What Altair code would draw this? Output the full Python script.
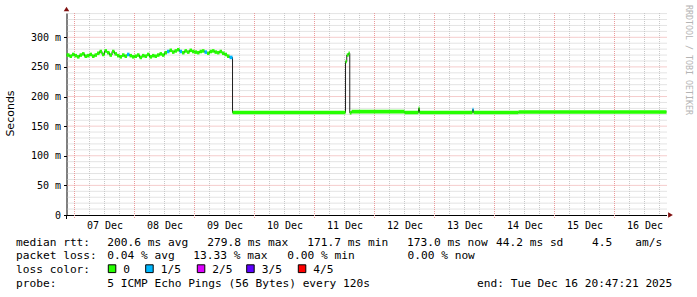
import json
import altair as alt
import pandas as pd

# ---------------- data (hours since 06 Dec 00:00) ----------------
START = 20.789   # 06 Dec 20:47:21
END = 260.789    # 16 Dec 20:47:21

# hourly medians (ms) for the first, noisy part
noisy_hours = [START] + list(range(22, 87))
noisy_values = [270, 268, 271, 269, 267, 270, 272, 268, 269, 271, 268, 270, 273,
                276, 271, 277, 274, 270, 276, 272,
                269, 267, 270, 268, 271, 269, 267, 268, 270, 266, 269, 268, 271, 267, 269, 268, 270,
                272, 270, 274, 276,
                278, 275, 277, 279, 276, 274, 277, 275, 278, 276,
                275, 274, 276, 277, 275, 273, 276, 277, 275, 274, 276, 273, 271,
                268, 266]
noisy_loss = [0] * 66
for i in (24, 40, 45, 55, 65):
    noisy_loss[i] = 1

# step segments for the flat part
flat_hours = [87.2, 132.4, 132.9, 133.6, 134.1, 134.8, 156.0, 161.6, 162.0, 183.2, 183.6, 201.6]
flat_values = [173.0, 259.0, 270.0, 273.0, 172.5, 174.5, 173.0, 180.0, 173.0, 178.0, 173.0, 174.0]
flat_loss = [0, 0, 0, 0, 0, 0, 0, 0, 0, 1, 0, 0]

day_labels = ["07 Dec", "08 Dec", "09 Dec", "10 Dec", "11 Dec",
              "12 Dec", "13 Dec", "14 Dec", "15 Dec", "16 Dec"]
y_ticks = [0, 50, 100, 150, 200, 250, 300]

loss_names = ["0", "1/5", "2/5", "3/5", "4/5"]
loss_colors = ["#26ff00", "#00b8ff", "#dd00ff", "#5e00ff", "#ff0000"]

legend_lines = [
    [("median rtt:", 16), ("200.6 ms avg", 107.3), ("279.8 ms max", 207.3),
     ("171.7 ms min", 307.3), ("173.0 ms now", 407), ("44.2 ms sd", 496),
     ("4.5", 592), ("am/s", 635.3)],
    [("packet loss:", 16), ("0.04 % avg", 107.3), ("13.33 % max", 193.3),
     ("0.00 % min", 287.3), ("0.00 % now", 407.5)],
    [("loss color:", 16)],
    [("probe:", 16), ("5 ICMP Echo Pings (56 Bytes) every 120s", 107.3),
     ("end: Tue Dec 16 20:47:21 2025", 477)],
]

# ---------------- layout ----------------
PL, PT = 66.5, 13
W, H = 600, 202
YMAX = 341
line_base = [245.5, 259.3, 273.0, 286.7]
swatch_x = [108.3, 145.7, 197.3, 246.7, 298.3]

MONO = "DejaVu Sans Mono"

# ---------------- tables ----------------
hours = noisy_hours + flat_hours
vals = noisy_values + flat_values
loss = noisy_loss + flat_loss
ends = hours[1:] + [END]
band = 3.0
seg = pd.DataFrame({"t0": hours, "t1": ends, "v": vals, "loss": loss})
seg["lo"] = seg["v"] - band
seg["hi"] = seg["v"] + band

line_df = pd.DataFrame({"t": hours + [END], "v": vals + [vals[-1]]})

xs = alt.Scale(domain=[START, END], nice=False, zero=False)
ys = alt.Scale(domain=[0, YMAX], nice=False, zero=True)

label_expr = "%s[round((datum.value-36)/24)]" % json.dumps(day_labels)
noon = [36 + 24 * i for i in range(len(day_labels))]

XAXIS = alt.Axis(
    values=noon, labelExpr=label_expr, title="", grid=False, ticks=False,
    domainColor="#000000", domainWidth=1, labelFont=MONO, labelFontSize=10,
    labelColor="#000000", labelPadding=5)
YAXIS = alt.Axis(
    values=y_ticks, labelExpr="datum.value == 0 ? '0' : datum.value + ' m'",
    title="Seconds", titleFont="DejaVu Sans", titleFontSize=11, titleFontWeight="normal",
    titleColor="#000000", titleX=-56.5, titleY=100, titleAngle=270,
    titleAlign="center", titleBaseline="middle",
    grid=False, tickSize=3, tickColor="#000000", domainColor="#000000", domainWidth=1,
    labelFont=MONO, labelFontSize=10, labelColor="#000000", labelPadding=3)

# grids
minor_y = pd.DataFrame({"y": [v for v in range(10, YMAX, 10) if v % 50]})
major_y = pd.DataFrame({"y": [v for v in range(50, YMAX, 50)]})
minor_x = pd.DataFrame({"x": [h for h in range(24, int(END), 6) if h % 24]})
major_x = pd.DataFrame({"x": list(range(24, int(END), 24))})

g_minor_y = alt.Chart(minor_y).mark_rule(color="#c8c8c8", strokeDash=[1, 1], strokeWidth=1).encode(
    y=alt.Y("y:Q", scale=ys, axis=YAXIS))
g_major_y = alt.Chart(major_y).mark_rule(color="#ea9a9a", strokeDash=[1, 1], strokeWidth=1).encode(
    y=alt.Y("y:Q", scale=ys, axis=YAXIS))
g_minor_x = alt.Chart(minor_x).mark_rule(color="#c8c8c8", strokeDash=[1, 1], strokeWidth=1).encode(
    x=alt.X("x:Q", scale=xs, axis=XAXIS), y=alt.value(0), y2=alt.value(H))
g_major_x = alt.Chart(major_x).mark_rule(color="#ea9a9a", strokeDash=[1, 1], strokeWidth=1).encode(
    x=alt.X("x:Q", scale=xs, axis=XAXIS), y=alt.value(0), y2=alt.value(H + 4))

median_line = alt.Chart(line_df).mark_line(interpolate="step-after", color="#202020", strokeWidth=1).encode(
    x=alt.X("t:Q", scale=xs, axis=XAXIS),
    y=alt.Y("v:Q", scale=ys, axis=YAXIS),
)

bands = alt.Chart(seg).mark_rect().encode(
    x=alt.X("t0:Q", scale=xs, axis=XAXIS), x2="t1",
    y=alt.Y("lo:Q", scale=ys, axis=YAXIS), y2="hi",
    color=alt.Color("loss:N", scale=alt.Scale(domain=[0, 1, 2, 3, 4], range=loss_colors), legend=None),
)

# axis extension below the x axis, as drawn by rrdtool
y_ext = alt.Chart(pd.DataFrame({"a": [0]})).mark_rule(color="#000000", strokeWidth=1).encode(
    x=alt.value(0), y=alt.value(H), y2=alt.value(H + 4))

# arrows
arrow_up = alt.Chart(pd.DataFrame({"a": [0]})).mark_point(
    shape="triangle-up", filled=True, color="#801010", size=30, opacity=1).encode(
    x=alt.value(0), y=alt.value(-4))
arrow_right = alt.Chart(pd.DataFrame({"a": [0]})).mark_point(
    shape="triangle-right", filled=True, color="#801010", size=30, opacity=1).encode(
    x=alt.value(W + 4), y=alt.value(H))

# legend texts
rows = []
for i, items in enumerate(legend_lines):
    for txt, px in items:
        rows.append({"txt": txt, "px": px - PL, "py": line_base[i] - PT})
for i, name in enumerate(loss_names):
    rows.append({"txt": name, "px": swatch_x[i] + 15 - PL, "py": line_base[2] - PT})
legend_df = pd.DataFrame(rows)
legend_text = alt.Chart(legend_df).mark_text(
    font=MONO, fontSize=11.2, align="left", baseline="alphabetic", color="#000000").encode(
    x=alt.X("px:Q", scale=None), y=alt.Y("py:Q", scale=None), text="txt:N")

sw_df = pd.DataFrame({"name": loss_names, "x0": [s - PL for s in swatch_x],
                      "x1": [s + 7.5 - PL for s in swatch_x],
                      "y0": [264.8 - PT] * 5, "y1": [272.6 - PT] * 5})
swatches = alt.Chart(sw_df).mark_rect(stroke="#000000", strokeWidth=1).encode(
    x=alt.X("x0:Q", scale=None), x2="x1", y=alt.Y("y0:Q", scale=None), y2="y1",
    fill=alt.Fill("name:N", scale=alt.Scale(domain=loss_names, range=loss_colors), legend=None))

watermark = alt.Chart(pd.DataFrame({"t": ["RRDTOOL / TOBI OETIKER"]})).mark_text(
    font=MONO, fontSize=8.3, angle=90, color="#b4b4b4", align="center", baseline="middle").encode(
    x=alt.value(688 - PL), y=alt.value(60 - PT), text="t:N")

chart = alt.layer(
    g_minor_y, g_minor_x, g_major_y, g_major_x,
    median_line, bands, y_ext,
    arrow_up, arrow_right,
    legend_text, swatches, watermark,
).properties(
    width=W, height=H,
    autosize=alt.AutoSizeParams(type="none"),
    padding={"left": PL, "top": PT, "right": 697 - PL - W, "bottom": 297 - PT - H},
    background="#ffffff",
).configure_view(stroke="transparent")

chart.save("out.html", embed_options={"renderer": "svg", "actions": False})
